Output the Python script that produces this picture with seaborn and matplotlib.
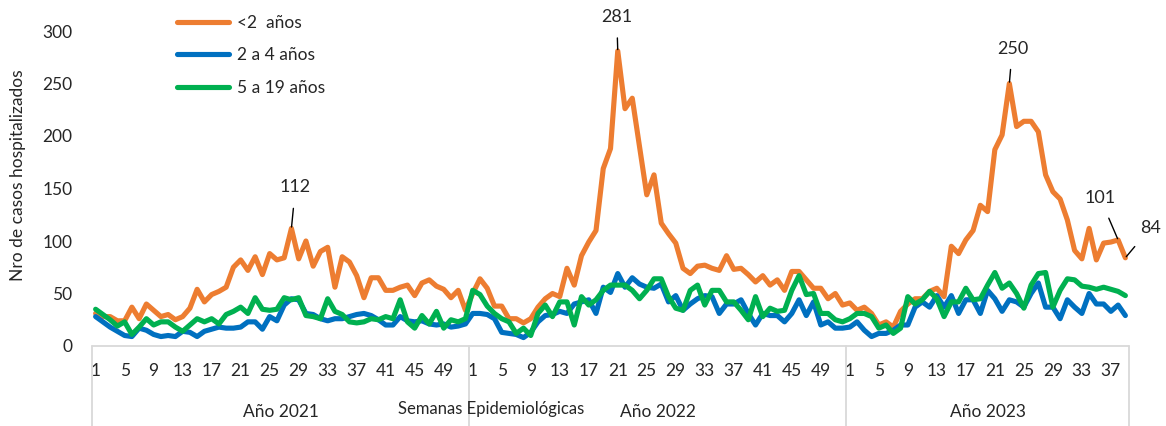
import matplotlib
matplotlib.use('agg')
import matplotlib.pyplot as plt
import matplotlib.transforms as mtransforms
import seaborn as sns
import pandas as pd

# weekly hospitalized cases
orange_2021 = [31, 28, 28, 24, 24, 37, 26, 40, 34, 28, 30, 25, 28, 36, 54, 42, 49, 52, 56, 75,
               82, 72, 85, 68, 88, 82, 84, 112, 83, 100, 76, 90, 94, 56, 85, 80, 67, 46, 65, 65,
               53, 53, 56, 58, 48, 60, 63, 57, 54, 46, 53, 34]
orange_2022 = [50, 64, 55, 38, 38, 26, 26, 22, 26, 37, 45, 50, 47, 74, 58, 86, 99, 110, 169, 188,
               281, 226, 236, 190, 144, 163, 117, 107, 98, 74, 69, 76, 77, 74, 72, 86, 73, 74, 68, 61,
               67, 58, 63, 53, 71, 71, 63, 55, 55, 45, 50, 39]
orange_2023 = [41, 34, 37, 31, 20, 23, 18, 33, 40, 45, 45, 52, 55, 47, 95, 88, 101, 110, 134, 128,
               187, 201, 250, 209, 214, 214, 204, 163, 147, 140, 120, 91, 83, 112, 82, 98, 99, 101, 84]

blue_2021 = [28, 23, 18, 14, 10, 9, 17, 15, 11, 9, 10, 9, 14, 13, 9, 14, 16, 18, 17, 17,
             18, 23, 23, 16, 28, 24, 39, 45, 44, 31, 30, 26, 24, 26, 26, 28, 30, 31, 29, 25,
             20, 20, 28, 24, 23, 24, 21, 20, 21, 18, 19, 21]
blue_2022 = [31, 31, 30, 26, 13, 12, 11, 8, 13, 23, 29, 30, 33, 31, 40, 42, 44, 31, 56, 51,
             69, 56, 65, 59, 56, 55, 59, 42, 48, 34, 40, 45, 48, 47, 31, 40, 40, 44, 31, 20,
             31, 29, 29, 23, 31, 44, 29, 42, 20, 23, 17, 17]
blue_2023 = [18, 23, 15, 9, 12, 12, 15, 20, 20, 37, 42, 37, 48, 37, 48, 31, 44, 44, 31, 53,
             45, 33, 44, 42, 37, 50, 60, 37, 37, 26, 44, 37, 31, 50, 40, 40, 33, 39, 29]

green_2021 = [35, 30, 25, 19, 23, 11, 18, 26, 20, 23, 23, 18, 14, 20, 26, 23, 26, 21, 30, 33,
              37, 31, 46, 35, 34, 35, 46, 44, 46, 29, 28, 26, 45, 33, 30, 23, 22, 23, 26, 25,
              28, 26, 44, 23, 17, 29, 21, 33, 17, 25, 23, 26]
green_2022 = [53, 49, 38, 31, 26, 23, 12, 17, 10, 31, 39, 28, 42, 42, 20, 47, 39, 44, 53, 58,
              58, 58, 53, 45, 53, 64, 64, 47, 36, 34, 53, 58, 39, 53, 53, 42, 42, 34, 25, 47,
              28, 36, 33, 34, 53, 67, 49, 50, 31, 31, 25, 23]
green_2023 = [26, 31, 31, 28, 17, 20, 12, 17, 47, 40, 44, 52, 45, 28, 42, 42, 55, 44, 45, 58,
              70, 55, 60, 50, 36, 58, 69, 70, 37, 53, 64, 63, 57, 56, 54, 56, 54, 52, 48]

years = ['Año 2021', 'Año 2022', 'Año 2023']
series_names = ['<2  años', '2 a 4 años', '5 a 19 años']
colors = ['#ED7D31', '#0070C0', '#00B050']

orange = orange_2021 + orange_2022 + orange_2023
blue = blue_2021 + blue_2022 + blue_2023
green = green_2021 + green_2022 + green_2023
weeks_per_year = [len(orange_2021), len(orange_2022), len(orange_2023)]

week_nums = []
for n in weeks_per_year:
    week_nums += list(range(1, n + 1))
idx = list(range(len(week_nums)))

df = pd.concat([
    pd.DataFrame({'idx': idx, 'casos': vals, 'serie': name})
    for name, vals in zip(series_names, [orange, blue, green])
])

sns.set_style('white')
plt.rcParams['font.family'] = ['Lato', 'DejaVu Sans']

fig = plt.figure(figsize=(11.66, 4.26), dpi=100)
ax = fig.add_axes([92 / 1166, 80 / 426, (1129 - 92) / 1166, 315 / 426])

sns.lineplot(data=df, x='idx', y='casos', hue='serie', hue_order=series_names,
             palette=colors, lw=3.7, ax=ax, legend=True)

ax.set_xlim(-0.5, len(idx) - 0.5)
ax.set_ylim(0, 300)
ax.set_yticks(range(0, 301, 50))
ax.tick_params(axis='y', length=0, pad=14, labelsize=12.5)

tick_pos = [i for i, w in zip(idx, week_nums) if w % 4 == 1]
ax.set_xticks(tick_pos)
ax.set_xticklabels([str(week_nums[i]) for i in tick_pos], fontsize=12.5)
ax.tick_params(axis='x', length=0, pad=12)
ax.set_xlabel('')
ax.set_ylabel('')
sns.despine(ax=ax, left=True, bottom=True)

# category box under the plot
trans = mtransforms.blended_transform_factory(ax.transData, ax.transAxes)
grid_c = '#D9D9D9'
ax.plot([-0.5, len(idx) - 0.5], [0, 0], transform=trans, color=grid_c, lw=1.3, clip_on=False)
start = -0.5
for n, yr in zip(weeks_per_year, years):
    end = start + n
    ax.plot([start, start], [0, -0.26], transform=trans, color=grid_c, lw=1.3, clip_on=False)
    ax.text((start + end) / 2, -0.21, yr, transform=trans, ha='center', va='center', fontsize=12.5)
    start = end
ax.plot([start, start], [0, -0.26], transform=trans, color=grid_c, lw=1.3, clip_on=False)

ax.text(54.5, -0.2, 'Semanas Epidemiológicas', transform=trans, ha='center', va='center', fontsize=12)
fig.text(18 / 1166, 1 - 175 / 426, 'Nro de casos hospitalizados', rotation=90,
         ha='center', va='center', fontsize=12.5)

# value callouts on the <2 years series
callouts = [(27, (4, 41)), (72, (-1, 34)), (126, (3, 35)), (141, (-18, 42)), (142, (25, 30))]
for i, off in callouts:
    ax.annotate(str(orange[i]), xy=(i, orange[i]), xytext=off, textcoords='offset pixels',
                ha='center', va='center', fontsize=13,
                arrowprops=dict(arrowstyle='-', color='black', lw=1, shrinkA=7, shrinkB=1))

handles, labels = ax.get_legend_handles_labels()
leg = ax.legend(handles, labels, loc='upper left', bbox_to_anchor=(170 / 1166, 1 - 8 / 426),
                bbox_transform=fig.transFigure, frameon=False, fontsize=12.5,
                handlelength=3.0, labelspacing=0.95, handletextpad=0.45, borderaxespad=0)
for line in leg.get_lines():
    line.set_linewidth(3.7)

fig.savefig('out.png', dpi=100)
plt.close(fig)
